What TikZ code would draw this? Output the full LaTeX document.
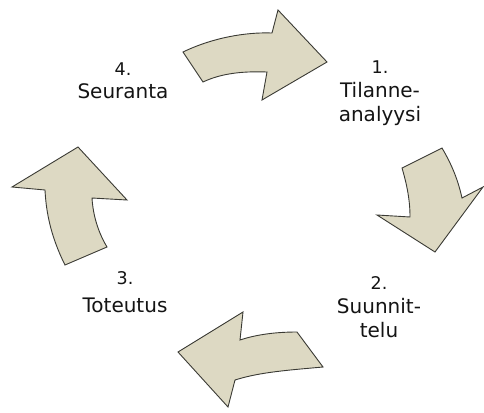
\documentclass[tikz,border=0pt]{standalone}
\usepackage{fontspec}
\setmainfont{DejaVu Sans}
\definecolor{arrowfill}{HTML}{DDD9C3}
\definecolor{arrowline}{HTML}{3A3A34}
\newcommand{\numsize}{\fontsize{17.5}{24}\selectfont}
\begin{document}
\begin{tikzpicture}[x=1pt,y=-1pt,
  cyclearrow/.style={fill=arrowfill,draw=arrowline,line width=0.9pt,line join=miter},
  label/.style={align=center,anchor=north,font=\fontsize{20}{24}\selectfont,text=black!92,inner sep=0pt}]
\useasboundingbox (0,0) rectangle (484,412);
% top arrow
\path[cyclearrow] (183,52) -- (203,82) .. controls (220,74) and (240,71) .. (267,72)
  -- (262,100) -- (327,62) -- (278,10) -- (272,33)
  .. controls (245,32) and (212,38) .. (183,52) -- cycle;
% right arrow
\path[cyclearrow] (402,168) -- (442,148) .. controls (452,165) and (458,180) .. (462,198)
  -- (483,187) -- (435,252) -- (377,215) -- (410,217)
  .. controls (410,200) and (407,185) .. (402,168) -- cycle;
% bottom arrow
\path[cyclearrow] (297,332) -- (323,367) .. controls (290,370) and (260,372) .. (235,380)
  -- (228,407) -- (178,352) -- (243,312) -- (240,340)
  .. controls (258,334) and (278,332) .. (297,332) -- cycle;
% left arrow
\path[cyclearrow] (65,265) -- (107,247) .. controls (98,232) and (93,215) .. (92,198)
  -- (127,200) -- (78,147) -- (12,187) -- (45,190)
  .. controls (46,210) and (50,235) .. (65,265) -- cycle;
% labels
\node[label] (l1) at (380,61) {{\numsize 1.}\\Tilanne-\\analyysi};
\node[label] (l2) at (379,276) {{\numsize 2.}\\Suunnit-\\telu};
\node[label] (l3) at (125,271) {{\numsize 3.}\\[4pt]Toteutus};
\node[label] (l4) at (123,63) {{\numsize 4.}\\[-1pt]Seuranta};
\end{tikzpicture}
\end{document}
